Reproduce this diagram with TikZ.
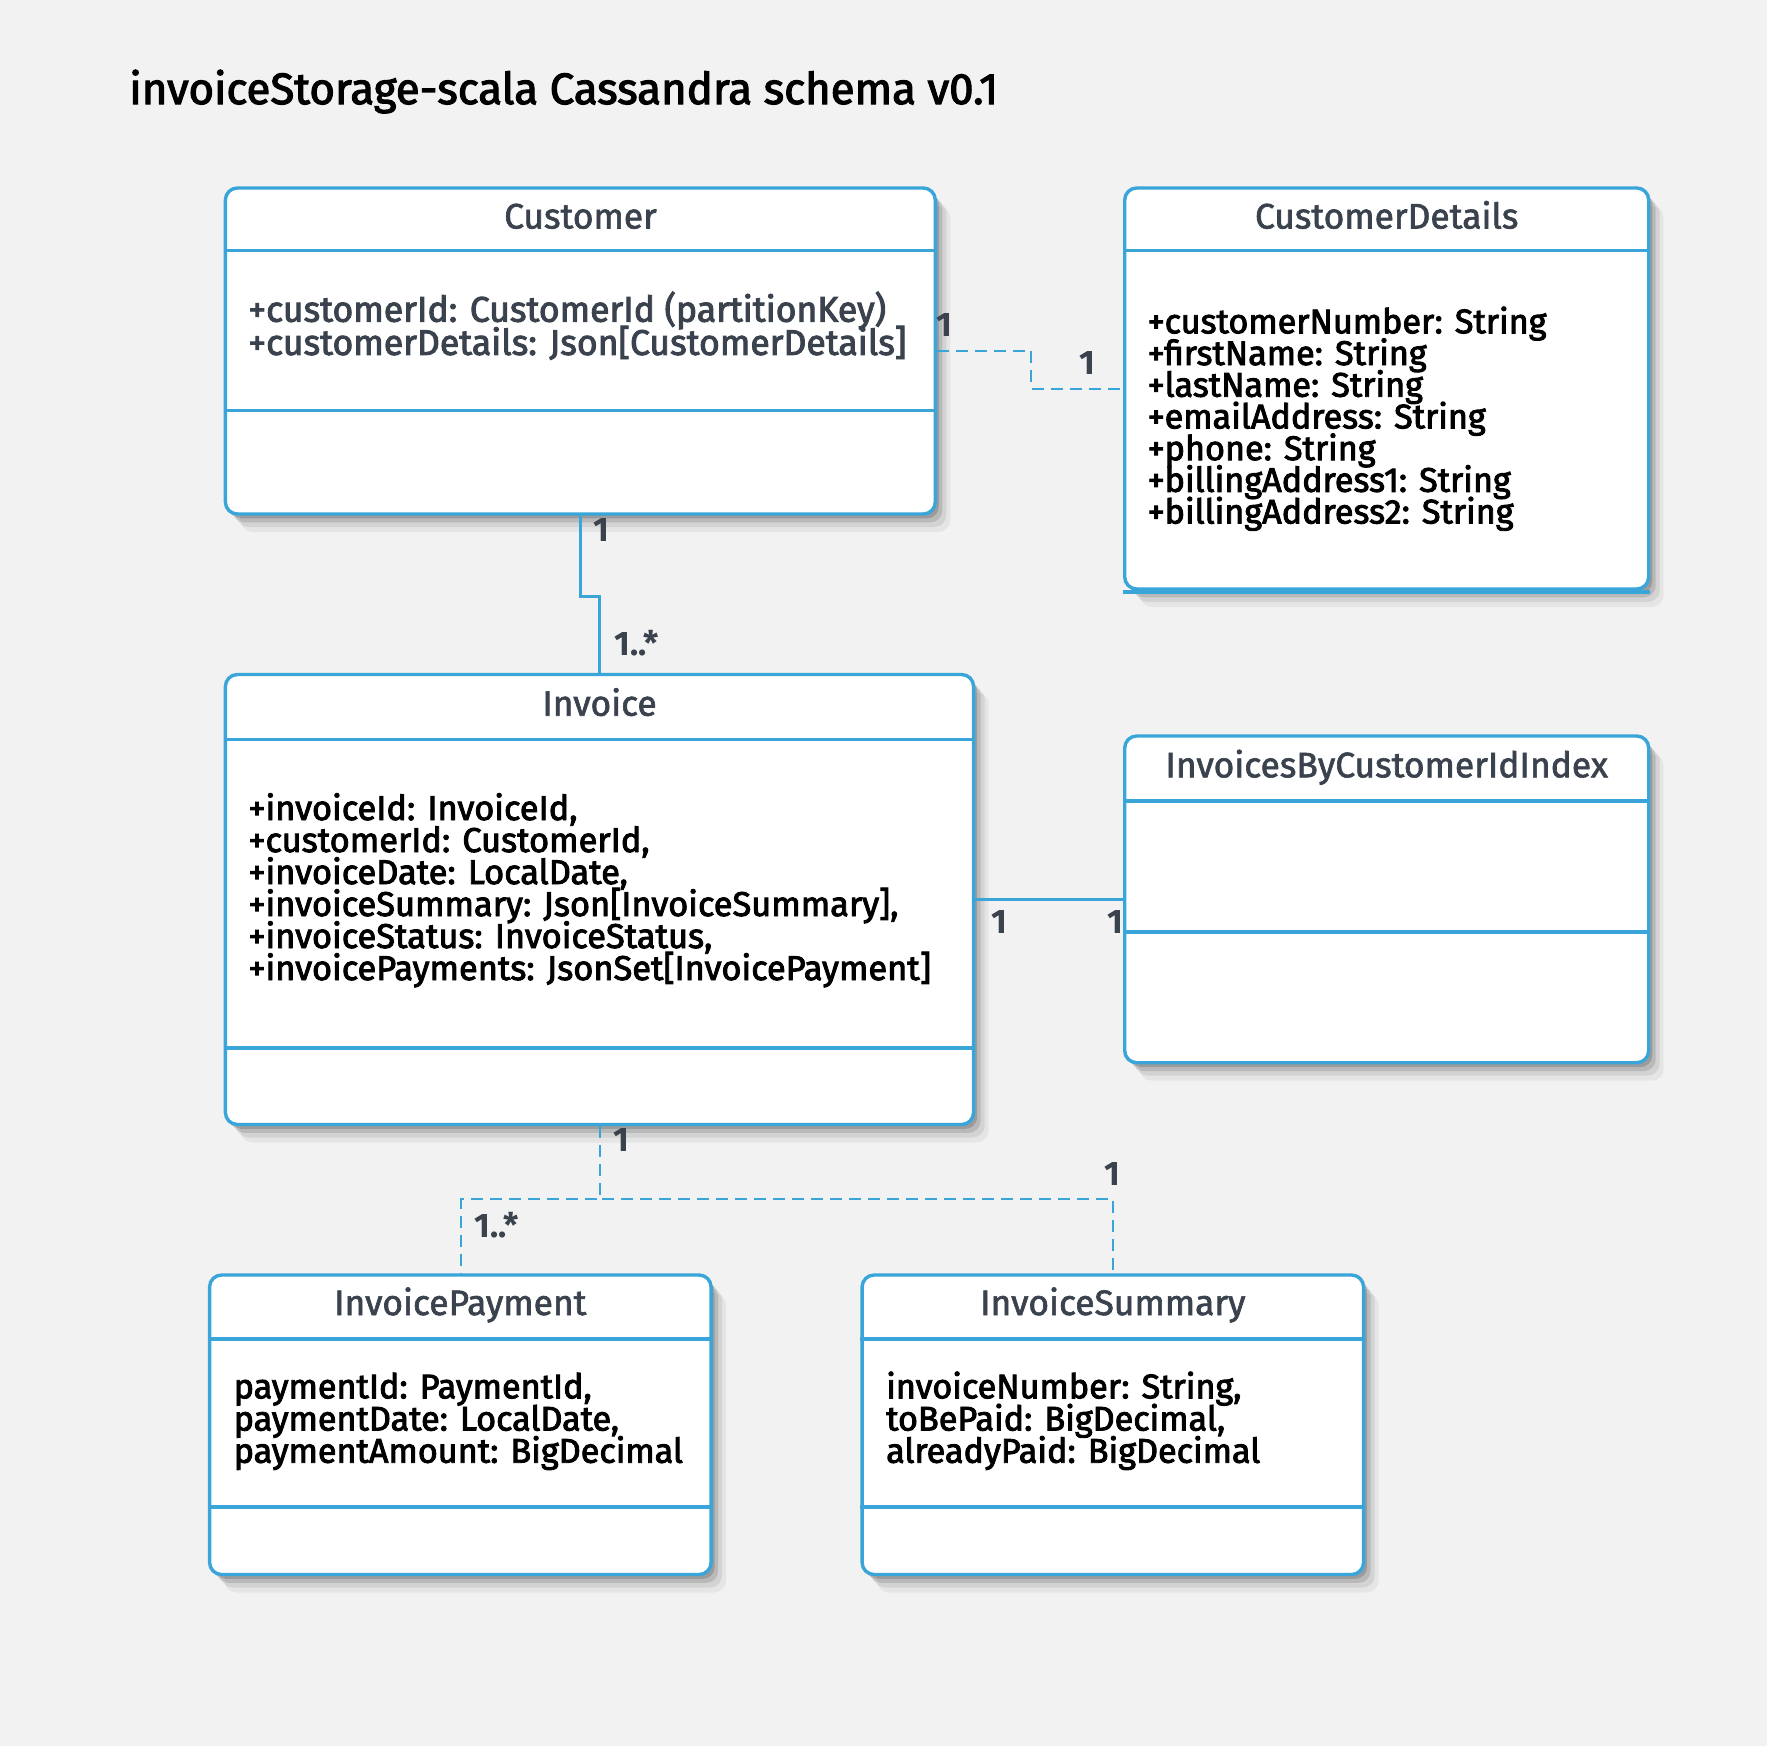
\documentclass[tikz,border=0pt]{standalone}
\usepackage{fontspec}
\setmainfont{Fira Sans}
\newfontfamily\fieldfont[FakeBold=2.6]{Fira Sans}
\newfontfamily\hdrfont[FakeBold=1.8]{Fira Sans}
\newfontfamily\titlefont[FakeBold=2.6]{Fira Sans}
\usetikzlibrary{shadows,fit}
\definecolor{umlblue}{HTML}{3AA5D9}
\definecolor{slate}{HTML}{3A424D}
\definecolor{bgc}{HTML}{F2F2F2}
\newcommand{\flines}[2]{\vtop{\baselineskip=#1\lineskiplimit=-1000pt\relax #2}}
\tikzset{
  classbox/.style={draw=umlblue, line width=1.7pt, fill=white, rounded corners=6pt, inner sep=0pt,
    drop shadow={shadow xshift=7.5pt, shadow yshift=-9pt, opacity=.05, fill=black},
    drop shadow={shadow xshift=5.5pt, shadow yshift=-6.5pt, opacity=.08, fill=black},
    drop shadow={shadow xshift=3.5pt, shadow yshift=-4.2pt, opacity=.12, fill=black},
    drop shadow={shadow xshift=1.8pt, shadow yshift=-2.2pt, opacity=.16, fill=black}},
  divider/.style={draw=umlblue, line width=1.7pt},
  hdrtext/.style={text=slate, font=\hdrfont\fontsize{17.7}{20}\selectfont, inner sep=0pt},
  fieldtext/.style={text=black, font=\fieldfont\fontsize{17.1}{19}\selectfont, inner sep=0pt},
  mult/.style={text=slate, font=\bfseries\fontsize{17}{19}\selectfont, inner sep=0pt},
  sconn/.style={draw=umlblue, line width=1.5pt},
  dconn/.style={draw=umlblue, line width=1pt, dash pattern=on 6pt off 3.5pt},
}
\begin{document}
\begin{tikzpicture}[x=0.5pt,y=-0.5pt]
\fill[bgc] (0,0) rectangle (1767,1746);
\useasboundingbox (0,0) rectangle (1767,1746);

\node[anchor=base west, inner sep=0pt, font=\titlefont\fontsize{21.9}{26}\selectfont] (title) at (129,104) {invoiceStorage-scala Cassandra schema v0.1};

% Customer
\node[classbox, fit={(225.4,188) (935.3,514)}] (customer) {};
\coordinate (cuh) at (0,250.5); \coordinate (cus) at (0,410.5);
\draw[divider] (customer.west |- cuh) -- (customer.east |- cuh);
\draw[divider] (customer.west |- cus) -- (customer.east |- cus);
\node[hdrtext, anchor=base] (customer-t) at (580.5,228.5) {Customer};
\node[fieldtext, text=slate, font=\fieldfont\fontsize{17.8}{19}\selectfont, anchor=base west] (customer-f) at (248,321.7) {\flines{16.6pt}{\hbox{+customerId: CustomerId (partitionKey)}\hbox{+customerDetails: Json[CustomerDetails]}}};

% CustomerDetails
\node[classbox, fit={(1124.7,188) (1648.7,589)}] (details) {};
\coordinate (deh) at (0,250.5);
\draw[divider] (details.west |- deh) -- (details.east |- deh);
\draw[divider] ([yshift=-0.6pt]details.south west) -- ([yshift=-0.6pt]details.south east);
\node[hdrtext, anchor=base] (details-t) at (1386.7,228.5) {CustomerDetails};
\node[fieldtext, anchor=base west] (details-f) at (1147.2,333.3) {\flines{15.85pt}{\hbox{+customerNumber: String}\hbox{+firstName: String}\hbox{+lastName: String}\hbox{+emailAddress: String}\hbox{+phone: String}\hbox{+billingAddress1: String}\hbox{+billingAddress2: String}}};

% Invoice
\node[classbox, fit={(225.4,674.5) (973.6,1124.5)}] (invoice) {};
\coordinate (inh) at (0,739.3); \coordinate (ins) at (0,1047.8);
\draw[divider] (invoice.west |- inh) -- (invoice.east |- inh);
\draw[divider] (invoice.west |- ins) -- (invoice.east |- ins);
\node[hdrtext, anchor=base] (invoice-t) at (599.5,715.7) {Invoice};
\node[fieldtext, font=\fieldfont\fontsize{17.2}{19}\selectfont, anchor=base west] (invoice-f) at (248,820) {\flines{16pt}{\hbox{+invoiceId: InvoiceId,}\hbox{+customerId: CustomerId,}\hbox{+invoiceDate: LocalDate,}\hbox{+invoiceSummary: Json[InvoiceSummary],}\hbox{+invoiceStatus: InvoiceStatus,}\hbox{+invoicePayments: JsonSet[InvoicePayment]}}};

% InvoicesByCustomerIdIndex
\node[classbox, fit={(1124.7,736) (1648.7,1062.7)}] (index) {};
\coordinate (ixh) at (0,801); \coordinate (ixs) at (0,932);
\draw[divider] (index.west |- ixh) -- (index.east |- ixh);
\draw[divider] (index.west |- ixs) -- (index.east |- ixs);
\node[hdrtext, anchor=base] (index-t) at (1386.7,777.3) {InvoicesByCustomerIdIndex};

% InvoicePayment
\node[classbox, fit={(209.6,1275) (711.1,1574.5)}] (payment) {};
\coordinate (pah) at (0,1339); \coordinate (pas) at (0,1507);
\draw[divider] (payment.west |- pah) -- (payment.east |- pah);
\draw[divider] (payment.west |- pas) -- (payment.east |- pas);
\node[hdrtext, anchor=base] (payment-t) at (460.3,1315) {InvoicePayment};
\node[fieldtext, anchor=base west] (payment-f) at (233.3,1398.3) {\flines{16.1pt}{\hbox{paymentId: PaymentId,}\hbox{paymentDate: LocalDate,}\hbox{paymentAmount: BigDecimal}}};

% InvoiceSummary
\node[classbox, fit={(862.1,1275) (1363.6,1574.5)}] (summary) {};
\coordinate (suh) at (0,1339); \coordinate (sus) at (0,1507);
\draw[divider] (summary.west |- suh) -- (summary.east |- suh);
\draw[divider] (summary.west |- sus) -- (summary.east |- sus);
\node[hdrtext, anchor=base] (summary-t) at (1112.8,1315) {InvoiceSummary};
\node[fieldtext, anchor=base west] (summary-f) at (885.8,1398.3) {\flines{16.1pt}{\hbox{invoiceNumber: String,}\hbox{toBePaid: BigDecimal,}\hbox{alreadyPaid: BigDecimal}}};

% Connectors
\coordinate (k1) at (1031.1,350.5); \coordinate (k2) at (1031.1,388.8);
\draw[dconn] (customer.east |- k1) -- (k1) -- (k2) -- (details.west |- k2);

\coordinate (k3) at (580.5,596); \coordinate (k4) at (599.5,596);
\draw[sconn] (customer.south -| k3) -- (k3) -- (k4) -- (invoice.north -| k4);

\coordinate (k5) at (0,899.5);
\draw[sconn] (invoice.east |- k5) -- (index.west |- k5);

\coordinate (k6) at (599.5,1199.3); \coordinate (k7) at (461,1199.3); \coordinate (k8) at (1113.4,1199.3);
\draw[dconn] (invoice.south -| k6) -- (k6) -- (k7) -- (payment.north -| k7);
\draw[dconn] (invoice.south -| k6) -- (k6) -- (k8) -- (summary.north -| k8);

% Multiplicities
\node[mult, anchor=base] (m1) at (944,336) {1};
\node[mult, anchor=base] (m2) at (1087.5,374) {1};
\node[mult, anchor=base] (m3) at (601.8,541) {1};
\node[mult, anchor=base west] (m4) at (614,655) {1..*};
\node[mult, anchor=base] (m5) at (999.6,933) {1};
\node[mult, anchor=base] (m6) at (1115.7,933) {1};
\node[mult, anchor=base] (m7) at (621,1151) {1};
\node[mult, anchor=base west] (m8) at (474.4,1237) {1..*};
\node[mult, anchor=base] (m9) at (1112.3,1185) {1};
\end{tikzpicture}
\end{document}
